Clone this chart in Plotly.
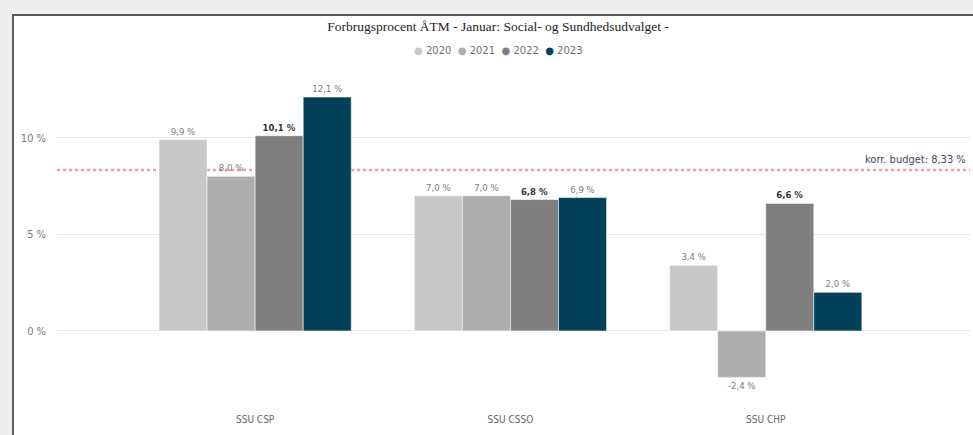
import plotly.graph_objects as go

categories = ["SSU CSP", "SSU CSSO", "SSU CHP"]
years = ["2020", "2021", "2022", "2023"]
values_2020 = [9.9, 7.0, 3.4]
values_2021 = [8.0, 7.0, -2.4]
values_2022 = [10.1, 6.8, 6.6]
values_2023 = [12.1, 6.9, 2.0]
budget = 8.33
y_ticks = [0, 5, 10]
y_tick_labels = ["0 %", "5 %", "10 %"]
colors = ["#C8C8C8", "#ADADAD", "#7F7F7F", "#03405A"]
series = [values_2020, values_2021, values_2022, values_2023]

W, H = 973, 435
L, R, T, B = 57, 970, 70, 400  # plot area in pixels


def px(xp):
    return (xp - L) / (R - L)


def py(yp):
    return (B - yp) / (B - T)


fig = go.Figure()
for yr, vals, col in zip(years, series, colors):
    bold = yr == "2022"
    fig.add_trace(go.Bar(
        x=categories, y=vals, name=yr,
        marker=dict(color=col, line=dict(color="rgba(255,255,255,0.55)", width=1)),
        texttemplate="%{y:.1f} %", textposition="outside",
        textfont=dict(family="DejaVu Sans Condensed", size=9.5,
                      color="#333333" if bold else "#7A7A7A",
                      weight="bold" if bold else "normal"),
        cliponaxis=False, showlegend=False,
    ))

# card frame
fig.add_shape(type="rect", xref="paper", yref="paper", layer="below",
              x0=px(13), x1=px(1000), y0=py(470), y1=py(15),
              fillcolor="white", line=dict(color="#5A5A5A", width=2))

# reference line (behind bars)
fig.add_shape(type="line", xref="paper", yref="y", x0=0, x1=1, y0=budget, y1=budget,
              layer="between", line=dict(color="#F3A0A0", width=2.5, dash="dot"))
fig.add_annotation(xref="paper", yref="y", x=px(968), y=budget, xanchor="right", yanchor="bottom",
                   yshift=2, showarrow=False,
                   text="korr. budget: " + f"{budget:.2f}".replace(".", ",") + "&nbsp;%",
                   font=dict(family="DejaVu Sans Condensed", size=11, color="#3C4A5E"))

# legend
leg = "&nbsp;&nbsp;".join(f"<span style='color:{c}'>●</span>&nbsp;{y}" for y, c in zip(years, colors))
fig.add_annotation(xref="paper", yref="paper", x=px(498), y=py(50), xanchor="center", yanchor="middle",
                   showarrow=False, text=leg,
                   font=dict(family="DejaVu Sans", size=10, color="#707070"))

fig.update_layout(
    width=W, height=H,
    margin=dict(l=L, r=W - R, t=T, b=H - B, pad=0),
    paper_bgcolor="#EEEEEE", plot_bgcolor="rgba(0,0,0,0)",
    separators=",.",
    barmode="group", bargap=0.247, bargroupgap=0,
    title=dict(text="Forbrugsprocent ÅTM - Januar: Social- og Sundhedsudvalget -",
               x=498 / W, xref="container", xanchor="center",
               y=1 - 26 / H, yref="container", yanchor="middle",
               font=dict(family="Liberation Serif", size=13.5, color="#252423")),
    xaxis=dict(range=[-0.776, 2.80], showgrid=False, showline=False, zeroline=False,
               ticks="", tickfont=dict(family="DejaVu Sans Condensed", size=10, color="#666666"),
               ticklabelstandoff=12),
    yaxis=dict(range=[-3.57, 13.5], tickmode="array", tickvals=y_ticks, ticktext=y_tick_labels,
               showgrid=True, gridcolor="#E6E6E6", gridwidth=1,
               zeroline=True, zerolinecolor="#E6E6E6", zerolinewidth=1, showline=False,
               tickfont=dict(family="DejaVu Sans Condensed", size=11, color="#777777"),
               ticklabelstandoff=10),
    showlegend=False,
)

fig.write_html("out.html", config={"displayModeBar": False},
               post_script="document.body.style.margin='0';")
